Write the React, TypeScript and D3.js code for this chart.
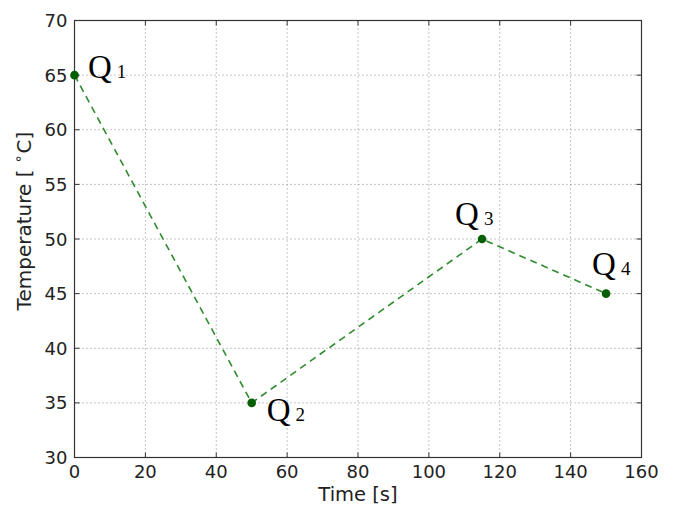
import React from "react";
import * as d3 from "d3";

const times = [0, 50, 115, 150];
const temps = [65, 35, 50, 45];
const labels = ["1", "2", "3", "4"];
const labelDx = [13.5, 15, -27, -14];
const labelDy = [3, 18, -14, -19];
const xTicks = [0, 20, 40, 60, 80, 100, 120, 140, 160];
const yTicks = [30, 35, 40, 45, 50, 55, 60, 65, 70];

export default function App() {
  const W = 676, H = 507;
  const L = 74.5, R = 641.5, T = 20.5, B = 457.5;
  const x = d3.scaleLinear().domain([0, 160]).range([L, R]);
  const y = d3.scaleLinear().domain([30, 70]).range([B, T]);
  const line = d3.line<number>().x((_, i) => x(times[i])).y((d) => y(d));
  const font = "DejaVu Sans, sans-serif";
  return (
    <svg width={W} height={H} style={{ position: "absolute", left: 0, top: 0 }}>
      <rect width={W} height={H} fill="#fff" />
      {xTicks.map((t) => (
        <g key={"x" + t}>
          <line x1={x(t)} x2={x(t)} y1={T} y2={B} stroke="#888" strokeDasharray="1,3" strokeWidth={1} />
          <line x1={x(t)} x2={x(t)} y1={B} y2={B - 5} stroke="#333" />
          <line x1={x(t)} x2={x(t)} y1={T} y2={T + 5} stroke="#333" />
          <text x={x(t)} y={B + 20} textAnchor="middle" fontFamily={font} fontSize={18} fill="#222">{t}</text>
        </g>
      ))}
      {yTicks.map((t) => (
        <g key={"y" + t}>
          <line x1={L} x2={R} y1={y(t)} y2={y(t)} stroke="#888" strokeDasharray="1,3" strokeWidth={1} />
          <line x1={L} x2={L + 5} y1={y(t)} y2={y(t)} stroke="#333" />
          <line x1={R} x2={R - 5} y1={y(t)} y2={y(t)} stroke="#333" />
          <text x={L - 7} y={y(t) + 6.5} textAnchor="end" fontFamily={font} fontSize={18} fill="#222">{t}</text>
        </g>
      ))}
      <rect x={L} y={T} width={R - L} height={B - T} fill="none" stroke="#333" strokeWidth={1.2} />
      <path d={line(temps) || ""} fill="none" stroke="#2e8b2e" strokeWidth={1.6} strokeDasharray="7,5" />
      {temps.map((v, i) => (
        <circle key={"p" + i} cx={x(times[i])} cy={y(v)} r={4.3} fill="#065f06" />
      ))}
      {temps.map((v, i) => (
        <text key={"l" + i} x={x(times[i]) + labelDx[i]} y={y(v) + labelDy[i]} fontFamily="Liberation Serif, serif" fontSize={33} fill="#000">
          Q<tspan fontSize={19} dx={5}>{labels[i]}</tspan>
        </text>
      ))}
      <text x={(L + R) / 2} y={501} textAnchor="middle" fontFamily={font} fontSize={19.5} fill="#222">Time [s]</text>
      <text transform={`translate(31,221) rotate(-90)`} textAnchor="middle" fontFamily={font} fontSize={20} fill="#222">
        Temperature [ <tspan fontSize={14} dy={-8}>∘</tspan><tspan dy={8} dx={1}>C]</tspan>
      </text>
    </svg>
  );
}
